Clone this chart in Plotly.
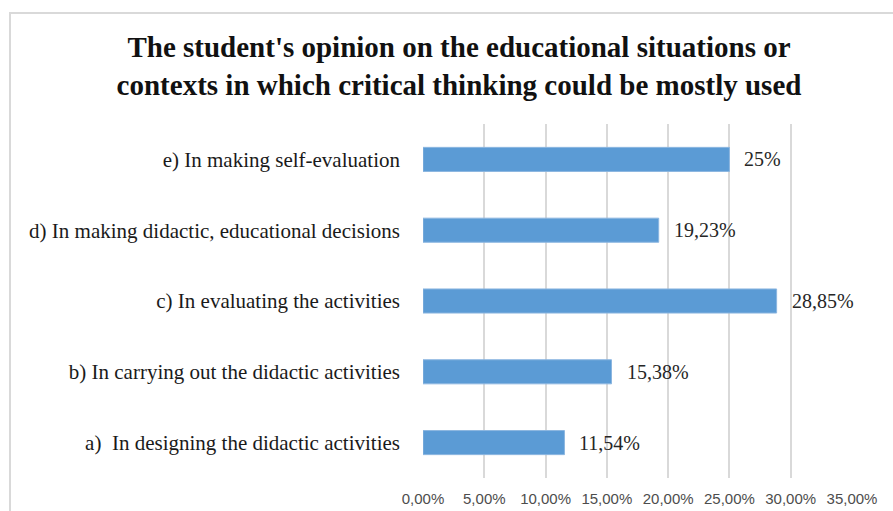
import plotly.graph_objects as go

categories = [
    "a)  In designing the didactic activities",
    "b) In carrying out the didactic activities",
    "c) In evaluating the activities",
    "d) In making didactic, educational decisions",
    "e) In making self-evaluation",
]
values = [0.1154, 0.1538, 0.2885, 0.1923, 0.25]
value_labels = ["11,54%", "15,38%", "28,85%", "19,23%", "25%"]
tick_vals = [0, 0.05, 0.10, 0.15, 0.20, 0.25, 0.30, 0.35]

W, H = 893, 511
L, R, T, B = 423, 41, 124, 33

fig = go.Figure()
fig.add_trace(go.Bar(
    y=categories, x=values, orientation="h",
    marker=dict(color="#5b9bd5", line=dict(color="#8cb6e0", width=1)),
    width=0.34, hoverinfo="skip",
))

for c, v, t in zip(categories, values, value_labels):
    fig.add_annotation(x=v, y=c, text=t, showarrow=False, xanchor="left",
                       xshift=13, font=dict(family="Liberation Serif", size=20, color="#262626"))

pw = W - L - R
ph = H - T - B
def px_x(px):
    return (px - L) / pw
def px_y(py):
    return (H - B - py) / ph

fig.add_shape(type="rect", xref="paper", yref="paper",
              x0=px_x(10), x1=px_x(905), y0=px_y(525), y1=px_y(13),
              line=dict(color="#d9d9d9", width=2), layer="below")

fig.update_layout(
    width=W, height=H,
    margin=dict(l=L, r=R, t=T, b=B, autoexpand=False),
    paper_bgcolor="white", plot_bgcolor="white",
    separators=",.",
    showlegend=False,
    title=dict(
        text="<b>The student's opinion on the educational situations or<br>contexts in which critical thinking could be mostly used</b>",
        x=459 / W, xanchor="center", y=1 - 57 / H, yanchor="middle",
        font=dict(family="Liberation Serif", size=29, color="#111111"),
        automargin=False,
    ),
    xaxis=dict(
        range=[0, 0.35], tickvals=tick_vals, tickformat=".2%",
        showgrid=True, gridcolor="#d9d9d9", gridwidth=1.5,
        zeroline=False, showline=False, automargin=False,
        tickfont=dict(family="Liberation Sans", size=15, color="#4d4d4d"),
        ticks="", ticklabelstandoff=10, fixedrange=True,
    ),
    yaxis=dict(
        categoryorder="array", categoryarray=categories,
        showgrid=False, zeroline=False, showline=False, automargin=False,
        tickfont=dict(family="Liberation Serif", size=21, color="#1a1a1a"),
        ticks="", ticklabelstandoff=22, fixedrange=True,
    ),
)

fig.write_html("out.html", config={"displayModeBar": False},
               post_script="document.body.style.margin='0';")
